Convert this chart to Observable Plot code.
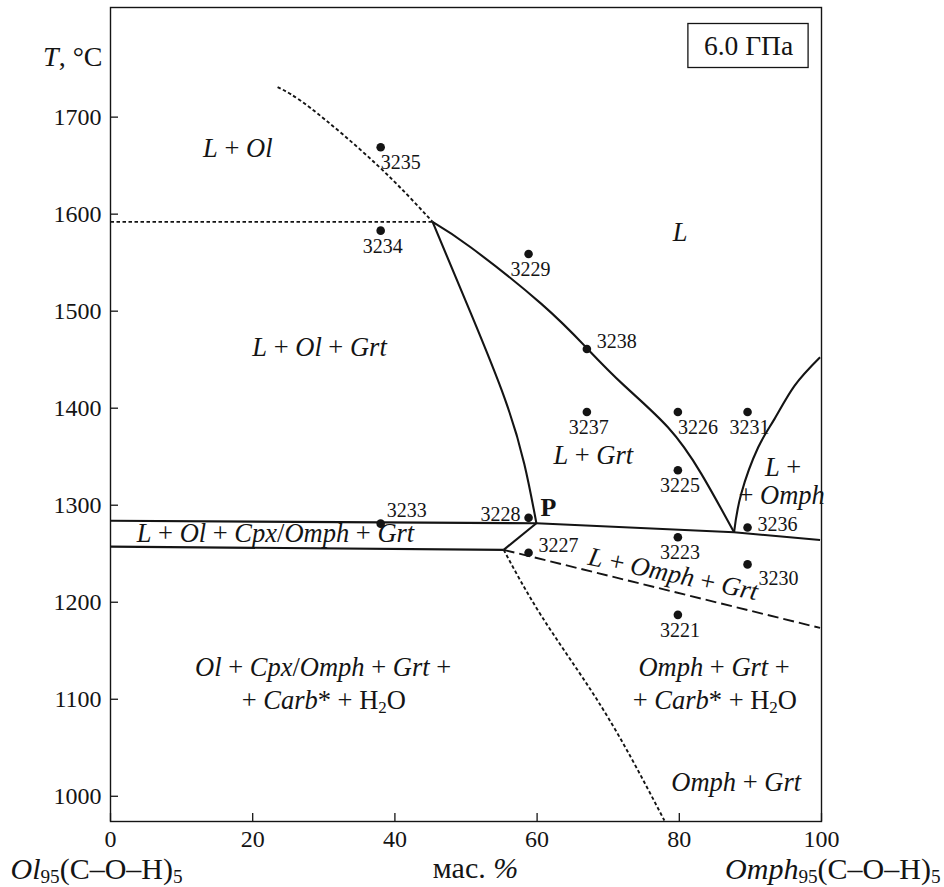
<!DOCTYPE html>
<html>
<head>
<meta charset="utf-8">
<script src="https://cdn.jsdelivr.net/npm/d3@7"></script>
<script src="https://cdn.jsdelivr.net/npm/@observablehq/plot@0.6"></script>
<style>
  html, body { margin: 0; padding: 0; background: #fff; }
  #chart svg { display: block; }
  #chart svg, #chart svg text, #chart svg tspan {
    font-family: "Liberation Serif", "Times New Roman", "DejaVu Serif", serif !important;
  }
</style>
</head>
<body>
<div id="chart"></div>
<script>
// ---------- axis ticks ----------
const xTicks = [0, 20, 40, 60, 80, 100];
const yTicks = [1000, 1100, 1200, 1300, 1400, 1500, 1600, 1700];

// ---------- experimental runs ----------
const sampleIds = ["3235", "3234", "3229", "3238", "3237", "3226", "3231", "3225", "3228", "3236", "3223", "3227", "3230", "3221", "3233"];
const sampleX   = [38, 38, 58.8, 67, 67, 79.8, 89.6, 79.8, 58.8, 89.6, 79.8, 58.8, 89.6, 79.8, 38];
const sampleT   = [1669, 1583, 1559, 1461, 1396, 1396, 1396, 1336, 1287, 1277, 1267, 1251, 1239, 1187, 1281];
const sampleLabelPlace = ["belowRight", "below", "below", "upperRight", "below", "belowRight", "below", "below", "left", "right", "below", "upperRight", "lowerRight", "below", "aboveRight"];

// ---------- phase boundaries (x = wt.%, T = °C) ----------
const olLiquidusX = [23.5, 28.2, 37.6, 45.3];                       // dotted
const olLiquidusT = [1731, 1709, 1650, 1592];
const olGrtHorizX = [0, 45.3];                                      // dotted
const olGrtHorizT = [1592, 1592];
const olOutX = [45.3, 50.7, 55.4, 58.2, 59.9];                      // solid
const olOutT = [1592, 1497.5, 1411, 1342.6, 1281.4];
const grtLiquidusX = [45.3, 50.7, 60.6, 67.1, 72.3, 78.4, 83.1, 87.7]; // solid
const grtLiquidusT = [1592, 1565.6, 1507.5, 1461.1, 1423, 1380.3, 1332.3, 1272.1];
const omphLiquidusX = [87.7, 88.7, 91.1, 93.4, 96.2, 99.8];         // solid
const omphLiquidusT = [1272.1, 1311.6, 1359.7, 1389, 1423, 1452.5];
const upperSolidusX = [0, 59.9, 87.7, 99.8];                        // solid
const upperSolidusT = [1284, 1281.4, 1272.1, 1264.2];
const lowerSolidusX = [0, 55.3];                                    // solid
const lowerSolidusT = [1257.3, 1254];
const linkX = [55.3, 59.9];                                         // solid
const linkT = [1254, 1281.4];
const omphSolidusX = [55.3, 99.8];                                  // dashed
const omphSolidusT = [1254, 1173.5];
const olStabilityX = [55.3, 60.6, 67.6, 73.2, 77.9];                // dotted
const olStabilityT = [1254, 1186, 1109, 1040, 975];

// ---------- phase-field labels ----------
const regionLabels = [
  "<i>L</i> + <i>Ol</i>",
  "<i>L</i>",
  "<i>L</i> + <i>Ol</i> + <i>Grt</i>",
  "<i>L</i> + <i>Grt</i>",
  "<i>L</i> +",
  "+ <i>Omph</i>",
  "<i>L</i> + <i>Ol</i> + <i>Cpx</i>/<i>Omph</i> + <i>Grt</i>",
  "<i>Ol</i> + <i>Cpx</i>/<i>Omph</i> + <i>Grt</i> +",
  "+ <i>Carb</i>* + H<sub>2</sub>O",
  "<i>Omph</i> + <i>Grt</i> +",
  "+ <i>Carb</i>* + H<sub>2</sub>O",
  "<i>Omph</i> + <i>Grt</i>"
];
const regionX = [17.9, 80.1, 29.4, 67.9, 94.6, 94.4, 23.2, 29.9, 30.0, 84.9, 85.0, 88.0];
const regionT = [1659.4, 1572.8, 1454.2, 1342.9, 1330.5, 1301.4, 1261.8, 1124.3, 1090.3, 1124.3, 1090.3, 1005.8];

const slopedLabel = ["<i>L</i> + <i>Omph</i> + <i>Grt</i>"];
const slopedX = [78.9];
const slopedT = [1220.5];

const pointLabel = ["<b>P</b>"];
const pointLabelX = [61.6];
const pointLabelT = [1289.3];

const pressureLabel = ["6.0 ГПа"];
const yAxisTitle = ["<i>T</i>, °C"];
const xAxisTitle = ["мас. <i>%</i>"];
const leftEndmember = ["<i>Ol</i><sub>95</sub>(C–O–H)<sub>5</sub>"];
const rightEndmember = ["<i>Omph</i><sub>95</sub>(C–O–H)<sub>5</sub>"];

// ---------- layout helpers (not data) ----------
const INK = "#141414";
const FONT = "'Liberation Serif', 'Times New Roman', serif";
const placements = {
  below:      {textAnchor: "middle", dx: 2,  dy: 22},
  belowRight: {textAnchor: "start",  dx: 0,  dy: 22},
  lowerRight: {textAnchor: "start",  dx: 11, dy: 21},
  right:      {textAnchor: "start",  dx: 10, dy: 3},
  upperRight: {textAnchor: "start",  dx: 10, dy: -1},
  aboveRight: {textAnchor: "start",  dx: 6,  dy: -7},
  left:       {textAnchor: "end",    dx: -8, dy: 3}
};

const series = (xs, ts) => xs.map((x, i) => ({x, T: ts[i]}));
const lineMark = (xs, ts, dash, curve = "natural") =>
  Plot.line(series(xs, ts), {x: "x", y: "T", curve, stroke: INK, strokeWidth: dash ? 1.9 : 2.1,
    strokeDasharray: dash || null, strokeLinecap: "butt", strokeLinejoin: "round"});

const idx = sampleIds.map((_, i) => i);
const sampleLabelMarks = Object.entries(placements).map(([name, p]) =>
  Plot.text(idx.filter(i => sampleLabelPlace[i] === name), {
    x: i => sampleX[i], y: i => sampleT[i], text: i => sampleIds[i],
    textAnchor: p.textAnchor, lineAnchor: "bottom", dx: p.dx, dy: p.dy,
    fontSize: 20, fill: INK
  }));

const plot = Plot.plot({
  width: 944,
  height: 887,
  marginLeft: 110,
  marginRight: 123,
  marginTop: 7,
  marginBottom: 66,
  style: {fontFamily: FONT, fontSize: "24px", color: INK, background: "#fff"},
  x: {domain: [0, 100], label: null},
  y: {domain: [974, 1813], label: null},
  marks: [
    Plot.axisX({ticks: xTicks, tickFormat: d3.format("d"), tickSize: -8, tickPadding: 16, fontSize: 24, label: null, strokeWidth: 1.3}),
    Plot.axisY({ticks: yTicks, tickFormat: d3.format("d"), tickSize: -8, tickPadding: 17, fontSize: 24, label: null, strokeWidth: 1.3}),
    Plot.frame({stroke: INK, strokeWidth: 1.4}),

    lineMark(olLiquidusX, olLiquidusT, "3.5,2.5"),
    lineMark(olGrtHorizX, olGrtHorizT, "3.5,2.5", "linear"),
    lineMark(olOutX, olOutT, null),
    lineMark(grtLiquidusX, grtLiquidusT, null),
    lineMark(omphLiquidusX, omphLiquidusT, null),
    lineMark(upperSolidusX, upperSolidusT, null, "linear"),
    lineMark(lowerSolidusX, lowerSolidusT, null, "linear"),
    lineMark(linkX, linkT, null, "linear"),
    lineMark(omphSolidusX, omphSolidusT, "11,5", "linear"),
    lineMark(olStabilityX, olStabilityT, "3.5,2.5"),

    Plot.dot(idx, {x: i => sampleX[i], y: i => sampleT[i], r: 4.3, fill: INK, stroke: "none"}),
    ...sampleLabelMarks,

    Plot.text(regionLabels, {x: (d, i) => regionX[i], y: (d, i) => regionT[i], text: d => d,
      textAnchor: "middle", lineAnchor: "bottom", fontSize: 26.5, fill: INK}),
    Plot.text(slopedLabel, {x: (d, i) => slopedX[i], y: (d, i) => slopedT[i], text: d => d,
      textAnchor: "middle", lineAnchor: "bottom", rotate: 12, fontSize: 26.5, fill: INK}),
    Plot.text(pointLabel, {x: (d, i) => pointLabelX[i], y: (d, i) => pointLabelT[i], text: d => d,
      textAnchor: "middle", lineAnchor: "bottom", fontSize: 26, fill: INK}),

    Plot.text(pressureLabel, {frameAnchor: "top-right", text: d => d, textAnchor: "middle",
      lineAnchor: "bottom", dx: -73, dy: 47, fontSize: 27.5, fill: INK, className: "pressure-label"}),
    Plot.text(yAxisTitle, {frameAnchor: "top-left", text: d => d, textAnchor: "end",
      lineAnchor: "bottom", dx: -8, dy: 58, fontSize: 28, fill: INK}),
    Plot.text(xAxisTitle, {frameAnchor: "bottom", text: d => d, textAnchor: "middle",
      lineAnchor: "bottom", dx: 9.5, dy: 56, fontSize: 30, fill: INK}),
    Plot.text(leftEndmember, {frameAnchor: "bottom-left", text: d => d, textAnchor: "start",
      lineAnchor: "bottom", dx: -100, dy: 57, fontSize: 30, fill: INK}),
    Plot.text(rightEndmember, {frameAnchor: "bottom-right", text: d => d, textAnchor: "end",
      lineAnchor: "bottom", dx: 119, dy: 57, fontSize: 30, fill: INK})
  ]
});

document.getElementById("chart").appendChild(plot);

// ---------- rich text: <i>, <b>, <sub> markup → tspans ----------
const SVGNS = "http://www.w3.org/2000/svg";
plot.querySelectorAll("text").forEach(el => {
  const s = el.textContent;
  if (!s.includes("<")) return;
  const fs = parseFloat(getComputedStyle(el).fontSize) || 24;
  el.textContent = "";
  let italic = false, bold = false, sub = false, shift = 0;
  for (const part of s.split(/(<\/?[a-z]+>)/)) {
    if (!part) continue;
    const m = part.match(/^<(\/?)([a-z]+)>$/);
    if (m) {
      const on = !m[1];
      if (m[2] === "i") italic = on; else if (m[2] === "b") bold = on; else if (m[2] === "sub") sub = on;
      continue;
    }
    const t = document.createElementNS(SVGNS, "tspan");
    t.textContent = part;
    if (italic) t.setAttribute("font-style", "italic");
    if (bold) t.setAttribute("font-weight", "bold");
    const target = sub ? 0.16 * fs : 0;
    if (target !== shift) { t.setAttribute("dy", (target - shift).toFixed(2)); shift = target; }
    if (sub) t.setAttribute("font-size", (0.64 * fs).toFixed(1));
    el.appendChild(t);
  }
});

// ---------- box around the pressure label ----------
plot.querySelectorAll(".pressure-label text").forEach(el => {
  const b = el.getBBox();
  const r = document.createElementNS(SVGNS, "rect");
  r.setAttribute("x", b.x - 16);
  r.setAttribute("y", b.y - 6);
  r.setAttribute("width", b.width + 31);
  r.setAttribute("height", b.height + 13);
  r.setAttribute("fill", "none");
  r.setAttribute("stroke", INK);
  r.setAttribute("stroke-width", 1.3);
  if (el.getAttribute("transform")) r.setAttribute("transform", el.getAttribute("transform"));
  el.parentNode.insertBefore(r, el);
});
</script>
</body>
</html>
